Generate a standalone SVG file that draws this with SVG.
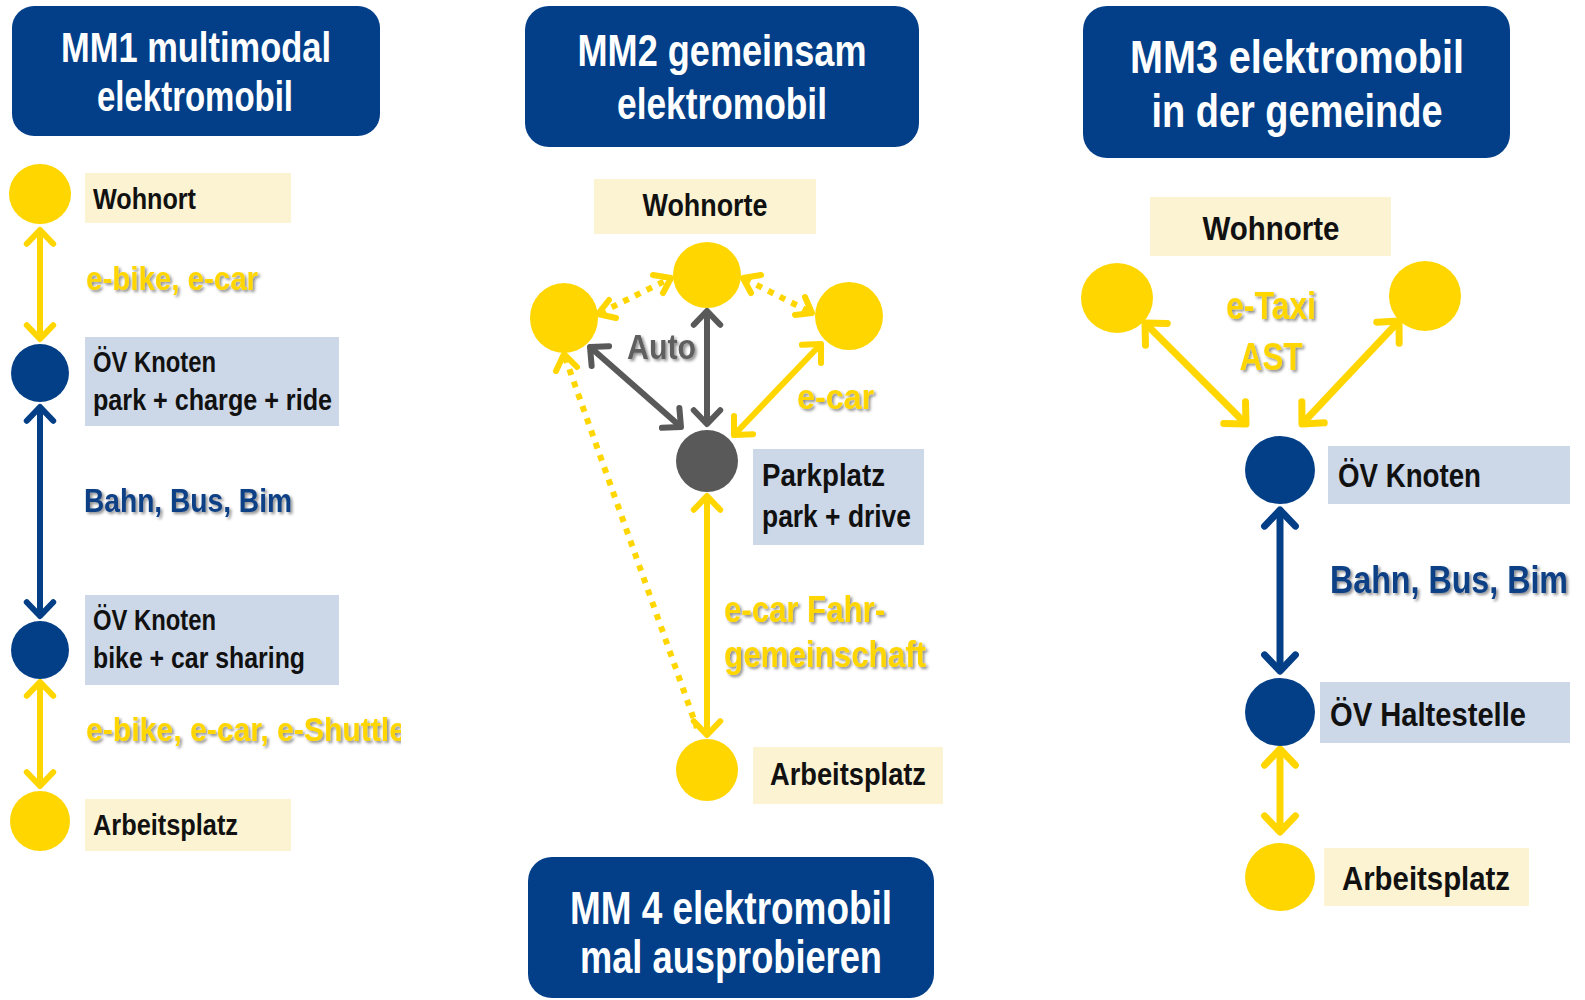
<svg xmlns="http://www.w3.org/2000/svg" width="1585" height="1000" viewBox="0 0 1585 1000">
<style>
.t{font-family:"Liberation Sans",Arial,sans-serif;font-weight:bold;}
.title{fill:#ffffff;text-anchor:middle;}
.tbox{fill:#023F88;}
.lbl{fill:#111111;}
.by{fill:#FBF3D1;}
.bb{fill:#CCD8E8;}
.cy{fill:#FFD600;}
.cb{fill:#033F87;}
.cg{fill:#595959;}
.ty{fill:#FFD600;filter:url(#sh);}
.tb{fill:#0B3F85;filter:url(#sh);}
.tg{fill:#5F5F5F;filter:url(#sh);}
.ly{stroke:#FFD600;stroke-width:6;fill:none;marker-start:url(#ay);marker-end:url(#ay);}
.lyd{stroke:#FFD600;stroke-width:6;fill:none;stroke-dasharray:6 7;}
.hd{fill:none;stroke:#FFD600;stroke-width:6;stroke-linecap:round;stroke-linejoin:round;}
.lb{stroke:#033F87;stroke-width:6;fill:none;marker-start:url(#ab);marker-end:url(#ab);}
.lg{stroke:#595959;stroke-width:6;fill:none;marker-start:url(#ag);marker-end:url(#ag);}
.thick{stroke-width:7;}
</style>
<defs>
<filter id="sh" x="-10%" y="-20%" width="130%" height="150%">
<feDropShadow dx="2" dy="2" stdDeviation="1.5" flood-color="#000000" flood-opacity="0.45"/>
</filter>
<marker id="ay" viewBox="-4 -4 8 8" markerWidth="8" markerHeight="8" refX="0" refY="0" orient="auto-start-reverse" overflow="visible">
<path d="M-2.3,-2.2 L0,0 L-2.3,2.2" fill="none" stroke="#FFD600" stroke-width="1" stroke-linecap="round" stroke-linejoin="round"/>
</marker>
<marker id="ab" viewBox="-4 -4 8 8" markerWidth="8" markerHeight="8" refX="0" refY="0" orient="auto-start-reverse" overflow="visible">
<path d="M-2.3,-2.2 L0,0 L-2.3,2.2" fill="none" stroke="#033F87" stroke-width="1" stroke-linecap="round" stroke-linejoin="round"/>
</marker>
<marker id="ag" viewBox="-4 -4 8 8" markerWidth="8" markerHeight="8" refX="0" refY="0" orient="auto-start-reverse" overflow="visible">
<path d="M-2.3,-2.2 L0,0 L-2.3,2.2" fill="none" stroke="#595959" stroke-width="1" stroke-linecap="round" stroke-linejoin="round"/>
</marker>
<clipPath id="clipShuttle"><rect x="0" y="700" width="401" height="60"/></clipPath>
</defs>
<rect width="1585" height="1000" fill="#ffffff"/>

<g id="connectors">
<!-- MM1 -->
<line class="ly" x1="40" y1="230" x2="40" y2="339"/>
<line class="lb" x1="40" y1="407" x2="40" y2="616"/>
<line class="ly" x1="40" y1="682" x2="40" y2="786"/>
<!-- MM2 -->
<line class="lyd" x1="600" y1="313" x2="669" y2="279"/>
<path class="hd" d="M609,300 L598,314 L616,318"/>
<path class="hd" d="M653,275 L671,278 L663,293"/>
<line class="lyd" x1="745" y1="279" x2="810" y2="312"/>
<path class="hd" d="M761,275 L743,278 L751,293"/>
<path class="hd" d="M805,297 L812,313 L795,315"/>
<line class="lyd" x1="565" y1="357" x2="697" y2="728"/>
<path class="hd" d="M556,371 L564,354 L577,367"/>
<line class="lg" x1="590" y1="347" x2="681" y2="427"/>
<line class="lg" x1="707" y1="311" x2="707" y2="424"/>
<line class="ly" x1="821" y1="344" x2="734" y2="435"/>
<line class="ly" x1="707" y1="496" x2="707" y2="735"/>
<!-- MM3 -->
<line class="ly thick" x1="1145" y1="323" x2="1246" y2="424"/>
<line class="ly thick" x1="1399" y1="321" x2="1302" y2="424"/>
<line class="lb thick" x1="1280" y1="510" x2="1280" y2="671"/>
<line class="ly thick" x1="1280" y1="749" x2="1280" y2="832"/>
</g>

<g id="mm1-title">
<rect class="tbox" x="12" y="6" width="368" height="130" rx="22"/>
<text class="t title" x="196" y="62" font-size="42" textLength="270" lengthAdjust="spacingAndGlyphs">MM1 multimodal</text>
<text class="t title" x="195" y="111" font-size="42" textLength="196" lengthAdjust="spacingAndGlyphs">elektromobil</text>
</g>
<g id="mm1-wohnort">
<ellipse class="cy" cx="40" cy="194" rx="31" ry="30"/>
<rect class="by" x="85" y="173" width="206" height="50"/>
<text class="t lbl" x="93" y="209" font-size="29" textLength="103" lengthAdjust="spacingAndGlyphs">Wohnort</text>
</g>
<g id="mm1-label-ebike">
<text class="t ty" x="86" y="290" font-size="33" textLength="172" lengthAdjust="spacingAndGlyphs">e-bike, e-car</text>
</g>
<g id="mm1-knoten1">
<ellipse class="cb" cx="40" cy="373" rx="29" ry="29"/>
<rect class="bb" x="85" y="337" width="254" height="89"/>
<text class="t lbl" x="93" y="372" font-size="29" textLength="123" lengthAdjust="spacingAndGlyphs">ÖV Knoten</text>
<text class="t lbl" x="93" y="410" font-size="29" textLength="239" lengthAdjust="spacingAndGlyphs">park + charge + ride</text>
</g>
<g id="mm1-label-bahn">
<text class="t tb" x="84" y="512" font-size="33" textLength="208" lengthAdjust="spacingAndGlyphs">Bahn, Bus, Bim</text>
</g>
<g id="mm1-knoten2">
<ellipse class="cb" cx="40" cy="650" rx="29" ry="29"/>
<rect class="bb" x="85" y="595" width="254" height="90"/>
<text class="t lbl" x="93" y="630" font-size="29" textLength="123" lengthAdjust="spacingAndGlyphs">ÖV Knoten</text>
<text class="t lbl" x="93" y="668" font-size="29" textLength="212" lengthAdjust="spacingAndGlyphs">bike + car sharing</text>
</g>
<g id="mm1-label-shuttle" clip-path="url(#clipShuttle)">
<text class="t ty" x="86" y="741" font-size="33" textLength="320" lengthAdjust="spacingAndGlyphs">e-bike, e-car, e-Shuttle</text>
</g>
<g id="mm1-arbeitsplatz">
<ellipse class="cy" cx="40" cy="821" rx="30" ry="30"/>
<rect class="by" x="85" y="799" width="206" height="52"/>
<text class="t lbl" x="93" y="835" font-size="29" textLength="145" lengthAdjust="spacingAndGlyphs">Arbeitsplatz</text>
</g>

<g id="mm2-title">
<rect class="tbox" x="525" y="6" width="394" height="141" rx="24"/>
<text class="t title" x="722" y="66" font-size="44" textLength="289" lengthAdjust="spacingAndGlyphs">MM2 gemeinsam</text>
<text class="t title" x="722" y="119" font-size="44" textLength="210" lengthAdjust="spacingAndGlyphs">elektromobil</text>
</g>
<g id="mm2-wohnorte-label">
<rect class="by" x="594" y="179" width="222" height="55"/>
<text class="t lbl" x="705" y="216" font-size="31" text-anchor="middle" textLength="125" lengthAdjust="spacingAndGlyphs">Wohnorte</text>
</g>
<g id="mm2-wohnort-left"><ellipse class="cy" cx="564" cy="318" rx="34" ry="35"/></g>
<g id="mm2-wohnort-top"><ellipse class="cy" cx="707" cy="275" rx="34" ry="33"/></g>
<g id="mm2-wohnort-right"><ellipse class="cy" cx="849" cy="316" rx="34" ry="34"/></g>
<g id="mm2-label-auto"><text class="t tg" x="627" y="359" font-size="35" textLength="69" lengthAdjust="spacingAndGlyphs">Auto</text></g>
<g id="mm2-label-ecar"><text class="t ty" x="797" y="409" font-size="35" textLength="77" lengthAdjust="spacingAndGlyphs">e-car</text></g>
<g id="mm2-parkplatz">
<ellipse class="cg" cx="707" cy="461" rx="31" ry="31"/>
<rect class="bb" x="753" y="449" width="171" height="96"/>
<text class="t lbl" x="762" y="486" font-size="31" textLength="123" lengthAdjust="spacingAndGlyphs">Parkplatz</text>
<text class="t lbl" x="762" y="527" font-size="31" textLength="149" lengthAdjust="spacingAndGlyphs">park + drive</text>
</g>
<g id="mm2-label-fahr">
<text class="t ty" x="724" y="622" font-size="37" textLength="161" lengthAdjust="spacingAndGlyphs">e-car Fahr-</text>
<text class="t ty" x="724" y="667" font-size="37" textLength="202" lengthAdjust="spacingAndGlyphs">gemeinschaft</text>
</g>
<g id="mm2-arbeitsplatz">
<ellipse class="cy" cx="707" cy="770" rx="31" ry="31"/>
<rect class="by" x="753" y="747" width="190" height="57"/>
<text class="t lbl" x="848" y="785" font-size="32" text-anchor="middle" textLength="156" lengthAdjust="spacingAndGlyphs">Arbeitsplatz</text>
</g>
<g id="mm4-title">
<rect class="tbox" x="528" y="857" width="406" height="141" rx="24"/>
<text class="t title" x="731" y="924" font-size="46" textLength="322" lengthAdjust="spacingAndGlyphs">MM 4 elektromobil</text>
<text class="t title" x="731" y="973" font-size="46" textLength="302" lengthAdjust="spacingAndGlyphs">mal ausprobieren</text>
</g>

<g id="mm3-title">
<rect class="tbox" x="1083" y="6" width="427" height="152" rx="24"/>
<text class="t title" x="1297" y="73" font-size="47" textLength="334" lengthAdjust="spacingAndGlyphs">MM3 elektromobil</text>
<text class="t title" x="1297" y="127" font-size="47" textLength="291" lengthAdjust="spacingAndGlyphs">in der gemeinde</text>
</g>
<g id="mm3-wohnorte-label">
<rect class="by" x="1150" y="197" width="241" height="59"/>
<text class="t lbl" x="1271" y="240" font-size="34" text-anchor="middle" textLength="137" lengthAdjust="spacingAndGlyphs">Wohnorte</text>
</g>
<g id="mm3-wohnort-left"><ellipse class="cy" cx="1117" cy="298" rx="36" ry="35"/></g>
<g id="mm3-wohnort-right"><ellipse class="cy" cx="1425" cy="296" rx="36" ry="35"/></g>
<g id="mm3-label-taxi">
<text class="t ty" x="1271" y="319" font-size="38" text-anchor="middle" textLength="90" lengthAdjust="spacingAndGlyphs">e-Taxi</text>
<text class="t ty" x="1271" y="370" font-size="38" text-anchor="middle" textLength="63" lengthAdjust="spacingAndGlyphs">AST</text>
</g>
<g id="mm3-knoten">
<ellipse class="cb" cx="1280" cy="470" rx="35" ry="34"/>
<rect class="bb" x="1328" y="446" width="242" height="58"/>
<text class="t lbl" x="1338" y="487" font-size="33" textLength="143" lengthAdjust="spacingAndGlyphs">ÖV Knoten</text>
</g>
<g id="mm3-label-bahn"><text class="t tb" x="1330" y="593" font-size="39" textLength="238" lengthAdjust="spacingAndGlyphs">Bahn, Bus, Bim</text></g>
<g id="mm3-haltestelle">
<ellipse class="cb" cx="1280" cy="712" rx="35" ry="34"/>
<rect class="bb" x="1320" y="682" width="250" height="61"/>
<text class="t lbl" x="1330" y="726" font-size="33" textLength="196" lengthAdjust="spacingAndGlyphs">ÖV Haltestelle</text>
</g>
<g id="mm3-arbeitsplatz">
<ellipse class="cy" cx="1280" cy="877" rx="35" ry="34"/>
<rect class="by" x="1324" y="848" width="205" height="58"/>
<text class="t lbl" x="1426" y="890" font-size="34" text-anchor="middle" textLength="168" lengthAdjust="spacingAndGlyphs">Arbeitsplatz</text>
</g>
</svg>
